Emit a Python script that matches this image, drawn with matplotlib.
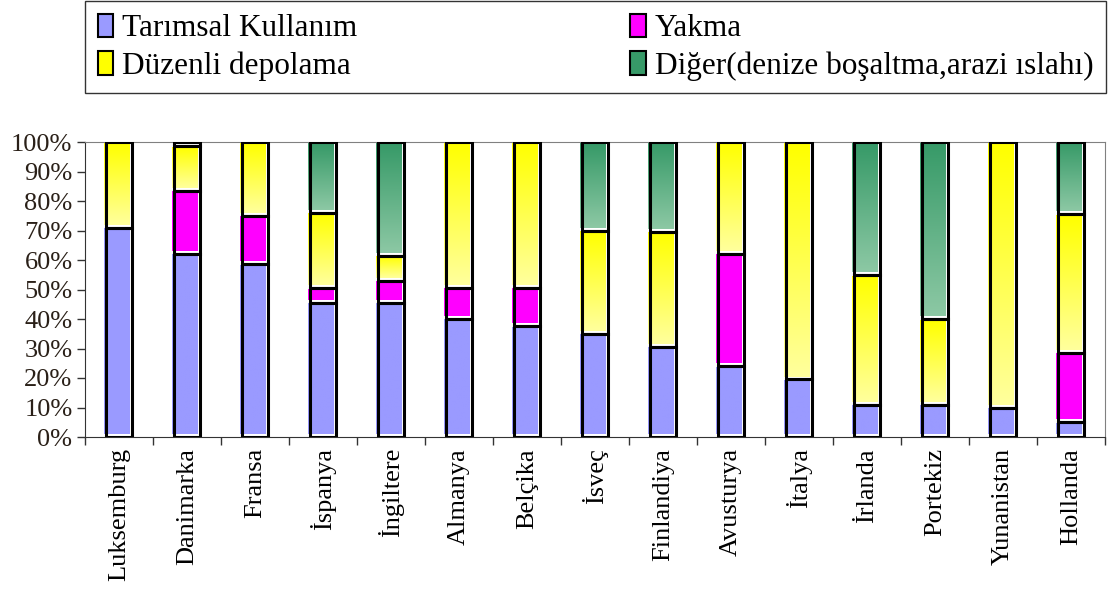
#!/usr/bin/env python3
"""Stacked 100% bars: sewage sludge disposal routes by country."""

import matplotlib

matplotlib.use("Agg")
import matplotlib.pyplot as plt
import numpy as np
from matplotlib.colors import LinearSegmentedColormap
from matplotlib.patches import Patch, Rectangle

countries = ["Luksemburg", "Danimarka", "Fransa", "İspanya", "İngiltere", "Almanya",
             "Belçika", "İsveç", "Finlandiya", "Avusturya", "İtalya", "İrlanda",
             "Portekiz", "Yunanistan", "Hollanda"]
tarimsal = [71, 62, 58.5, 45.5, 45.5, 40, 37.5, 35, 30.5, 24, 19.5, 11, 11, 10, 5]
yakma = [0, 21.5, 16.5, 5, 7.5, 10.5, 13, 0, 0, 38, 0, 0, 0, 0, 23.5]
duzenli = [29, 15, 25, 25.5, 8.5, 49.5, 49.5, 35, 39, 38, 80.5, 44, 29, 90, 47]
diger = [0, 1.5, 0, 24, 38.5, 0, 0, 30, 30.5, 0, 0, 45, 60, 0, 24.5]

series = [
    ("Tarımsal Kullanım", tarimsal, ("#9a9aff", "#9a9aff")),
    ("Yakma", yakma, ("#ff00ff", "#ff00ff")),
    ("Düzenli depolama", duzenli, ("#ffff00", "#ffff9c")),
    ("Diğer(denize boşaltma,arazi ıslahı)", diger, ("#379a68", "#8cc8a4")),
]

SERIF = ["Liberation Serif", "DejaVu Serif"]
plt.rcParams["font.family"] = SERIF

fig = plt.figure(figsize=(11.16, 5.89), dpi=100)
ax = fig.add_axes([85 / 1116, 1 - 437 / 589, 1020 / 1116, 295 / 589])

x = np.arange(len(countries))
width = 0.37
dx, dy = 0.04, 1.0  # fill drawn slightly up/left of its outline
bottom = np.zeros(len(countries))
for name, values, (top_c, bot_c) in series:
    values = np.asarray(values, dtype=float)
    cmap = LinearSegmentedColormap.from_list(name, [bot_c, top_c])
    grad = np.linspace(1, 0, 64).reshape(-1, 1)
    for xi, b, v in zip(x, bottom, values):
        if v <= 0:
            continue
        x0 = xi - width / 2
        ax.imshow(grad, cmap=cmap, extent=[x0 - dx, x0 + width - dx, b + dy, b + v - 0.3],
                  aspect="auto", zorder=2, interpolation="bilinear")
        ax.add_patch(Rectangle((x0, b), width, v, facecolor="none", edgecolor="black",
                               linewidth=2.2, zorder=3))
    bottom += values

ax.set_xlim(-0.5, len(countries) - 0.5)
ax.set_ylim(0, 100)
ax.set_yticks(np.arange(0, 101, 10))
ax.set_yticklabels([f"{v}%" for v in range(0, 101, 10)], fontsize=19, color="#2a2018")
ax.set_xticks(x)
ax.set_xticklabels(countries, rotation=90, fontsize=19)
ax.set_xticks(np.arange(-0.5, len(countries)), minor=True)
ax.tick_params(axis="x", which="major", length=0, pad=8)
ax.tick_params(axis="x", which="minor", length=6, width=1, color="#333333")
ax.tick_params(axis="y", length=6, width=1, color="#333333", pad=3)
for side in ("left", "bottom"):
    ax.spines[side].set_color("#333333")
for side in ("top", "right"):
    ax.spines[side].set_color("#808080")

handles = [Patch(facecolor=c[0], edgecolor="black", linewidth=1.5, label=n)
           for n, _, c in series]
order = [0, 2, 1, 3]
leg = fig.legend([handles[i] for i in order], [series[i][0] for i in order],
                 loc="upper left", bbox_to_anchor=(85 / 1116, 1 - 1 / 589, 1021 / 1116, 0),
                 mode="expand", ncol=2, prop={"family": SERIF, "size": 22.5},
                 frameon=True, fancybox=False,
                 edgecolor="black", handlelength=0.5, handleheight=0.8, handletextpad=0.3,
                 labelspacing=0.25, borderpad=0.4, borderaxespad=0)
leg.get_frame().set_linewidth(1.0)

fig.savefig("out.png", dpi=100)
